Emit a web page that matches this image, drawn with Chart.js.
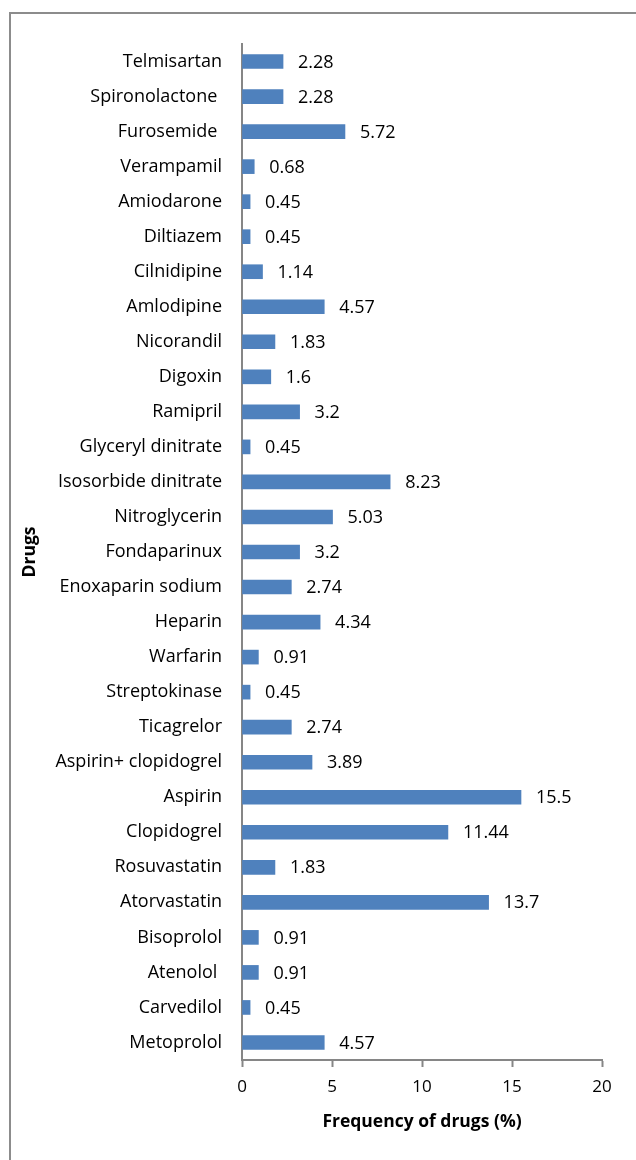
<!DOCTYPE html>
<html>
<head>
<meta charset="utf-8">
<script src="https://cdn.jsdelivr.net/npm/chart.js@4.4.1/dist/chart.umd.min.js"></script>
<style>
  html, body { margin: 0; padding: 0; background: #fff; }
  #wrap { width: 636px; height: 1160px; }
</style>
</head>
<body>
<div id="wrap"><canvas id="drugs-chart" width="636" height="1160"></canvas></div>
<script>
// drug names, top to bottom as in the figure
const drugs = [
    'Telmisartan', 'Spironolactone ', 'Furosemide ', 'Verampamil', 'Amiodarone',
    'Diltiazem', 'Cilnidipine', 'Amlodipine', 'Nicorandil', 'Digoxin',
    'Ramipril', 'Glyceryl dinitrate', 'Isosorbide dinitrate', 'Nitroglycerin', 'Fondaparinux',
    'Enoxaparin sodium', 'Heparin', 'Warfarin', 'Streptokinase', 'Ticagrelor',
    'Aspirin+ clopidogrel', 'Aspirin', 'Clopidogrel', 'Rosuvastatin', 'Atorvastatin',
    'Bisoprolol', 'Atenolol ', 'Carvedilol', 'Metoprolol'
];
const frequency = [
    2.28, 2.28, 5.72, 0.68, 0.45,
    0.45, 1.14, 4.57, 1.83, 1.6,
    3.2, 0.45, 8.23, 5.03, 3.2,
    2.74, 4.34, 0.91, 0.45, 2.74,
    3.89, 15.5, 11.44, 1.83, 13.7,
    0.91, 0.91, 0.45, 4.57
];
const xTicks = [0, 5, 10, 15, 20];

const FONT = "'Open Sans', sans-serif";
const AXIS_GREY = '#868686';

// outer frame like the exported figure
const framePlugin = {
    id: 'frame',
    beforeDraw(c) {
        const ctx = c.ctx;
        ctx.save();
        ctx.strokeStyle = '#8c8c8c';
        ctx.lineWidth = 2;
        ctx.strokeRect(10, 13, 700, 1300);
        ctx.restore();
    }
};

// value next to each bar
const valueLabels = {
    id: 'valueLabels',
    afterDatasetsDraw(c) {
        const ctx = c.ctx;
        const meta = c.getDatasetMeta(0);
        ctx.save();
        ctx.font = '18px ' + FONT;
        ctx.fillStyle = '#000';
        ctx.textAlign = 'left';
        ctx.textBaseline = 'middle';
        meta.data.forEach((bar, i) => {
            ctx.fillText(String(frequency[i]), bar.x + 15, bar.y + 1);
        });
        ctx.restore();
    }
};

new Chart(document.getElementById('drugs-chart').getContext('2d'), {
    type: 'bar',
    data: {
        labels: drugs,
        datasets: [{
            data: frequency,
            backgroundColor: '#4F81BD',
            borderWidth: 0,
            barThickness: 14
        }]
    },
    options: {
        indexAxis: 'y',
        responsive: false,
        animation: false,
        layout: { padding: { top: 44, right: 34, left: 0, bottom: 0 } },
        plugins: { legend: { display: false }, tooltip: { enabled: false } },
        scales: {
            x: {
                min: 0,
                max: 20,
                afterBuildTicks: (s) => { s.ticks = xTicks.map((v) => ({ value: v })); },
                afterFit: (s) => { s.height = 100; },
                grid: { drawOnChartArea: false, tickLength: 7, color: AXIS_GREY, tickWidth: 2 },
                border: { color: AXIS_GREY, width: 2 },
                ticks: { color: '#000', font: { family: FONT, size: 17 }, padding: 10 },
                title: {
                    display: true,
                    text: 'Frequency of drugs (%)',
                    color: '#000',
                    font: { family: FONT, size: 17.5, weight: 'bold' },
                    padding: { top: 0, bottom: 27.5 }
                }
            },
            y: {
                afterFit: (s) => { s.width = 242; },
                grid: { display: false },
                border: { color: AXIS_GREY, width: 2 },
                ticks: { color: '#000', font: { family: FONT, size: 18 }, padding: 12, autoSkip: false },
                title: {
                    display: true,
                    text: 'Drugs',
                    color: '#000',
                    font: { family: FONT, size: 17.5, weight: 'bold' },
                    padding: { top: 19.5, bottom: 0 }
                }
            }
        }
    },
    plugins: [framePlugin, valueLabels]
});
</script>
</body>
</html>
